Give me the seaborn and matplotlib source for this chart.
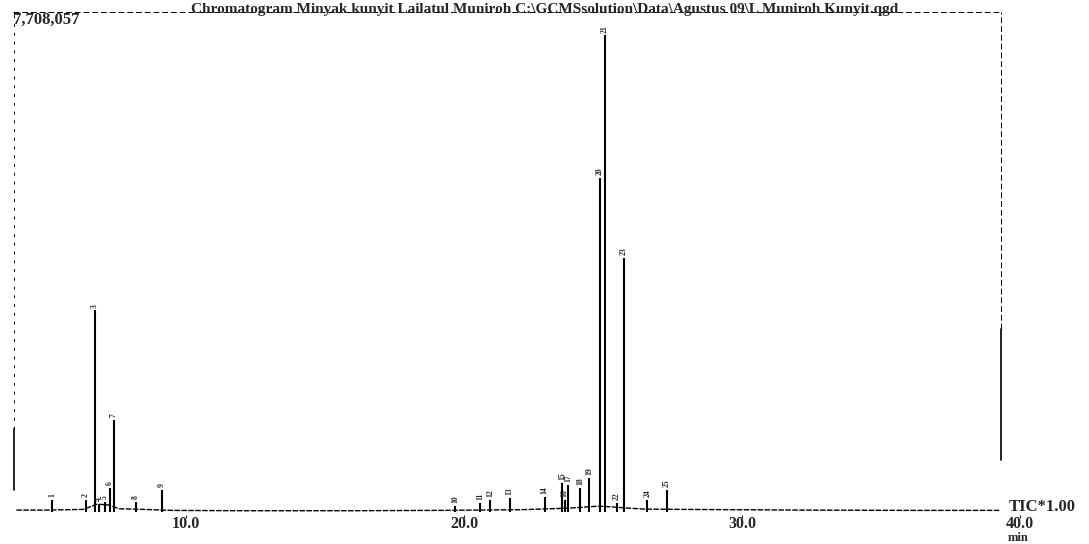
import numpy as np
import matplotlib
matplotlib.use("Agg")
import matplotlib.pyplot as plt
import seaborn as sns

# Chromatogram peak table (retention time in min, intensity in counts)
peak_no = ['1', '2', '3', '4', '5', '6', '7', '8', '9',
           '10', '11', '12', '13', '14', '15', '16', '17', '18', '19',
           '20', '21', '22', '23', '24', '25']
peak_rt = [5.18, 6.40, 6.73, 6.87, 7.09, 7.27, 7.41, 8.20, 9.14,
           19.68, 20.58, 20.94, 21.65, 22.91, 23.53, 23.62, 23.75, 24.17, 24.50,
           24.89, 25.07, 25.50, 25.76, 26.60, 27.30]
peak_int = [185000, 185000, 3110000, 123000, 154000, 370000, 1420000, 154000, 340000,
            92000, 139000, 185000, 216000, 231000, 450000, 185000, 420000, 370000, 524000,
            5150000, 7350000, 139000, 3920000, 185000, 340000]

# baseline of the TIC trace
base_rt = [3.9, 5.0, 6.3, 6.8, 7.2, 7.6, 8.5, 9.5, 12.0, 16.0, 19.0, 22.0, 23.8,
           24.8, 25.3, 25.9, 26.5, 28.0, 32.0, 36.0, 39.3]
base_int = [30000, 30000, 40000, 120000, 110000, 50000, 40000, 25000, 20000, 20000,
            25000, 35000, 60000, 90000, 80000, 60000, 45000, 40000, 30000, 25000, 25000]

ticks = [10, 20, 30, 40]
tick_labels = ['10.0', '20.0', '30.0', '40.0']

full_scale = 7708057

sns.set_style("white")
plt.rcParams['font.family'] = ['Liberation Serif', 'DejaVu Serif']

fig = plt.figure(figsize=(10.89, 5.44), dpi=100)
ax = fig.add_axes([13 / 1089, 29 / 544, 1007 / 1089, 503 / 544])

sns.lineplot(x=base_rt, y=base_int, ax=ax, color='black', linewidth=1.0, linestyle=(0, (4, 1)))
ax.vlines(peak_rt, 0, peak_int, color='black', linewidth=1.5)

for lab, rt, h in zip(peak_no, peak_rt, peak_int):
    ax.text(rt, h + 40000, lab, rotation=90, ha='center', va='bottom',
            fontsize=5.5, fontweight='bold', clip_on=False)

ax.set_xlim(3.78, 40.0)
ax.set_ylim(-46000, full_scale)

# frame of the printout: dashed borders with solid bits
for s in ['top', 'right', 'bottom', 'left']:
    ax.spines[s].set_visible(False)
xr = 39.3
ax.plot([3.78, xr], [1, 1], transform=ax.get_xaxis_transform(), color='black',
        linewidth=0.7, linestyle=(0, (6, 3)), clip_on=False)
ax.axvline(xr, 0.37, 1.0, color='black', linewidth=0.7, linestyle=(0, (6, 3)))
ax.axvline(xr, 0.11, 0.37, color='black', linewidth=1.2)
ax.axvline(3.82, 0.17, 1.0, color='black', linewidth=0.7, linestyle=(0, (3, 6)))
ax.axvline(3.82, 0.05, 0.17, color='black', linewidth=1.2)

ax.set_xticks(ticks)
ax.set_xticklabels(tick_labels, fontsize=11.5, fontweight='bold')
ax.set_yticks([])
ax.tick_params(axis='x', direction='out', length=2, width=0.8, pad=-1, bottom=True)
ax.set_xlabel('')
ax.set_ylabel('')

fig.text(545 / 1089, 1 - 10 / 544,
         'Chromatogram Minyak kunyit Lailatul Muniroh C:\\GCMSsolution\\Data\\Agustus 09\\L Muniroh Kunyit.qgd',
         ha='center', va='center', fontsize=11, fontweight='bold')
fig.text(13 / 1089, 1 - 20 / 544, '7,708,057', ha='left', va='center',
         fontsize=12, fontweight='bold')
fig.text(1009 / 1089, 1 - 507 / 544, 'TIC*1.00', ha='left', va='center',
         fontsize=12, fontweight='bold')
fig.text(1018 / 1089, 1 - 538 / 544, 'min', ha='center', va='center',
         fontsize=9, fontweight='bold')

fig.savefig('out.png', dpi=100)
